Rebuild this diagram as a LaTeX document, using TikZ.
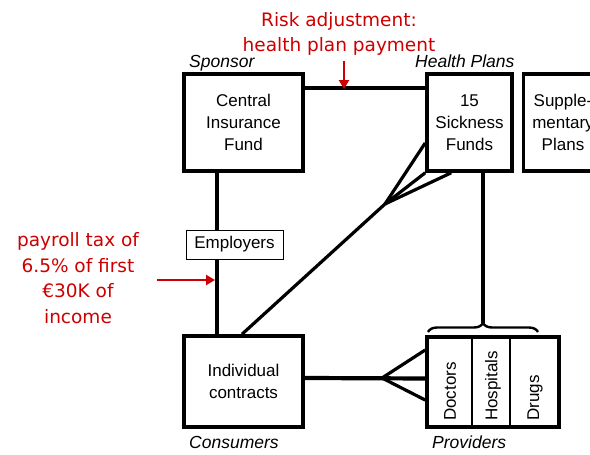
\documentclass[tikz,border=0pt]{standalone}
\usepackage{fontspec}
\setmainfont{Liberation Sans}
\newfontfamily\redfont{DejaVu Sans}
\usetikzlibrary{arrows.meta,decorations.pathreplacing,calc}
\definecolor{redtxt}{RGB}{204,0,0}
\begin{document}
\begin{tikzpicture}[x=1pt,y=-1pt,
  box/.style={draw, line width=3.6pt, fill=white, inner sep=0pt, font=\fontsize{17}{22}\selectfont, align=center},
  lbl/.style={font=\fontsize{17}{22}\selectfont, align=center, inner sep=0pt},
  ital/.style={font=\fontsize{17.5}{22}\selectfont\itshape, inner sep=0pt, anchor=base west},
  redlbl/.style={font=\redfont\fontsize{18.5}{25.5}\selectfont, text=redtxt, align=center, inner sep=0pt},
  redarrow/.style={draw=redtxt, line width=2.8pt, -{Triangle[length=9pt,width=10pt]}},
  heavy/.style={line width=4.2pt},
  diag/.style={line width=3.2pt},
  bracestyle/.style={line width=2.4pt, decorate, decoration={brace, amplitude=9pt}}
]
\useasboundingbox (0,0) rectangle (590,455);

% coordinates
\coordinate (vx) at (217,0);
\coordinate (cf1) at (385,204);
\coordinate (cf2) at (382,378);
\coordinate (btip) at (483,323);
\coordinate (bl) at (428,332);
\coordinate (br) at (538,332);
\coordinate (rtop) at (344,61);
\coordinate (rend) at (344,89);
\coordinate (pst) at (157,280);
\coordinate (pend) at (215,280);

% boxes
\node[box, minimum width=119pt, minimum height=97pt] (cif) at (243.5,122.5) {Central\\Insurance\\Fund};
\node[box, minimum width=85pt, minimum height=97pt] (sf) at (469.5,122.5) {15\\Sickness\\Funds};
\node[box, minimum width=79pt, minimum height=97pt] (sup) at (563,122.5) {Supple-\\mentary\\Plans};
\node[box, minimum width=119pt, minimum height=91pt] (ic) at (243.5,381.5) {Individual\\contracts};
\node[box, minimum width=132pt, minimum height=90pt] (prov) at (493,382) {};
\node[draw, line width=1pt, fill=white, minimum width=97pt, minimum height=29pt, lbl] (emp) at (234.5,244.5) {Employers};

% provider columns
\draw[line width=2.2pt] ([xshift=47pt]prov.north west) -- ([xshift=47pt]prov.south west);
\draw[line width=2.2pt] ([xshift=85pt]prov.north west) -- ([xshift=85pt]prov.south west);
\node[lbl, rotate=90, anchor=west] (doc) at (450,421) {Doctors};
\node[lbl, rotate=90, anchor=west] (hos) at (493,421) {Hospitals};
\node[lbl, rotate=90, anchor=west] (drg) at (535,421) {Drugs};

% labels
\node[ital] (spon) at (189,67) {Sponsor};
\node[ital] (hp) at (415,67) {Health Plans};
\node[ital] (con) at (189,448) {Consumers};
\node[ital] (pro) at (432,448) {Providers};

% connectors
\draw[heavy] ([yshift=-16pt]cif.north east) -- ([yshift=-16pt]sf.north west);
\draw[diag] (cif.south -| vx) -- (emp.north -| vx);
\draw[diag] (emp.south -| vx) -- (ic.north -| vx);
\draw[diag] ([xshift=-1.5pt]ic.north) -- (cf1);
\draw[diag] (cf1) -- ([yshift=-20.5pt]sf.west);
\draw[diag] (cf1) -- (sf.south west);
\draw[diag] (cf1) -- ([xshift=26pt]sf.south west);
\draw[diag] ([xshift=13.5pt]sf.south) -- (btip);
\draw[bracestyle] (bl) -- (br);
\draw[heavy] ([yshift=3.5pt]ic.east) -- ([yshift=3.5pt,xshift=3pt]prov.west);
\draw[diag] (cf2) -- ([yshift=32pt]prov.west);
\draw[diag] (cf2) -- ([yshift=-18pt]prov.west);

% red annotations
\node[redlbl] (risk) at (339,34) {Risk adjustment:\\health plan payment};
\node[redlbl] (pay) at (78,278) {payroll tax of\\6.5\% of first\\€30K of\\income};
\draw[redarrow] (rtop) -- (rend);
\draw[redarrow] (pst) -- (pend);
\end{tikzpicture}
\end{document}
